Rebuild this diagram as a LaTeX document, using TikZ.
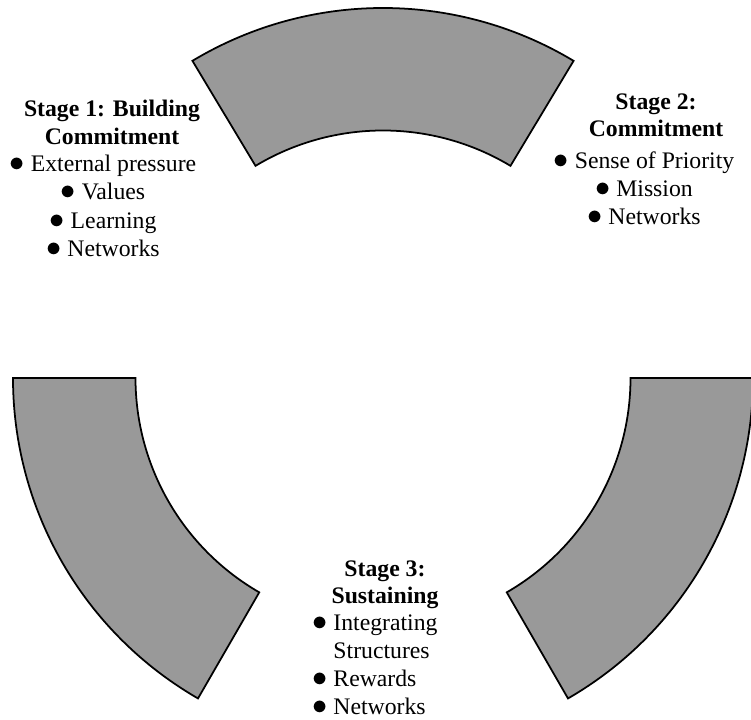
\documentclass[tikz,border=0pt]{standalone}
\usepackage{fontspec}
\setmainfont{Liberation Serif}
\newcommand{\itemdot}{\smash{\fontsize{17}{17}\selectfont$\bullet$}\ }
\tikzset{
  sector/.style={draw=black, line width=1pt, fill=black!40, line join=miter},
  stagetitle/.style={font=\fontsize{13.5}{15.8}\selectfont\bfseries, align=center, inner sep=0pt, anchor=north},
  stagelist/.style={font=\fontsize{13.5}{16}\selectfont, align=center, inner sep=0pt, anchor=north}
}
\begin{document}
\begin{tikzpicture}
    \useasboundingbox (-7.66,-6.82) rectangle (7.36,7.56);
    % the three ring pieces
    \foreach \a/\b in {59/121, 180/240, 300/360}
      \draw[sector] (\a:7.4) arc[start angle=\a, end angle=\b, radius=7.4]
        -- (\b:4.95) arc[start angle=\b, end angle=\a, radius=4.95] -- cycle;
    \node[stagetitle] (S1) at (-5.42,5.56) {Stage 1: Building\\Commitment};
    \node[stagelist] (L1) at (-5.60,4.46) {\itemdot External pressure\\\itemdot Values\\\itemdot Learning\\\itemdot Networks};
    \node[stagetitle] (S2) at (5.46,5.70) {Stage 2:\\Commitment};
    \node[stagelist] (L2) at (5.22,4.54) {\itemdot Sense of Priority\\\itemdot Mission\\\itemdot Networks};
    \node[stagetitle] (S3) at (0.04,-3.64) {Stage 3:\\Sustaining};
    \node[stagelist, align=left, anchor=north west] (L3) at (-1.42,-4.72) {\itemdot Integrating\\\hphantom{\itemdot}Structures\\\itemdot Rewards\\\itemdot Networks};
\end{tikzpicture}
\end{document}
